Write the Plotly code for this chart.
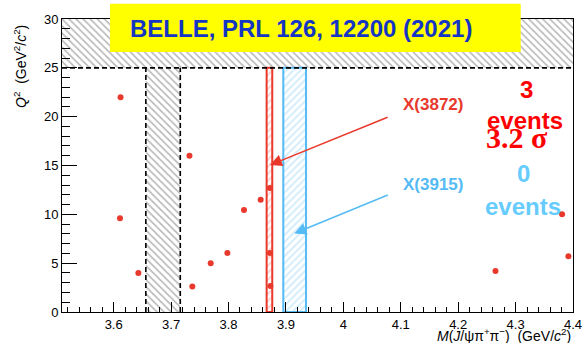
import plotly.graph_objects as go

# ---------------- data ----------------
mass = [3.612, 3.611, 3.643, 3.732, 3.737, 3.769, 3.798, 3.827, 3.856,
        3.872, 3.872, 3.873, 4.265, 4.381, 4.392]
q2 = [22.0, 9.6, 4.0, 16.0, 2.6, 5.0, 6.05, 10.45, 11.5,
      12.7, 6.05, 2.65, 4.2, 10.0, 5.7]

x_range = [3.51, 4.4]
y_range = [0, 30]
q2_cut = 25
sideband = [3.656, 3.716]
x3872_window = [3.8664, 3.8762]
x3915_window = [3.8954, 3.935]

x_ticks = [3.6, 3.7, 3.8, 3.9, 4.0, 4.1, 4.2, 4.3, 4.4]
x_tick_labels = ["3.6", "3.7", "3.8", "3.9", "4", "4.1", "4.2", "4.3", "4.4"]
y_ticks = [0, 5, 10, 15, 20, 25, 30]

# arrow endpoints (tip, tail) in data units
arrow_3872 = {"tip": (3.8722, 15.05), "tail": (4.0797, 20.0)}
arrow_3915 = {"tip": (3.9146, 8.04), "tail": (4.08, 12.04)}

RED = "#E8392C"
BLUE = "#55BBF5"
FONT = "Liberation Sans, Arial, sans-serif"


def rect(x0, x1, y0, y1):
    return [x0, x1, x1, x0, x0], [y0, y0, y1, y1, y0]


fig = go.Figure()

# top excluded band Q2 > 25
bx, by = rect(x_range[0], x_range[1], q2_cut, y_range[1])
fig.add_trace(go.Scatter(x=bx, y=by, mode="lines", fill="toself",
                         line=dict(width=0), fillcolor="rgba(0,0,0,0)",
                         fillpattern=dict(shape="\\", fgcolor="#707070", bgcolor="white",
                                          size=5, solidity=0.32),
                         hoverinfo="skip", showlegend=False))

# sideband (grey hatched)
bx, by = rect(sideband[0], sideband[1], y_range[0], q2_cut)
fig.add_trace(go.Scatter(x=bx, y=by, mode="lines", fill="toself",
                         line=dict(width=0), fillcolor="rgba(0,0,0,0)",
                         fillpattern=dict(shape="\\", fgcolor="#707070", bgcolor="white",
                                          size=5, solidity=0.32),
                         hoverinfo="skip", showlegend=False))
for xv in sideband:
    fig.add_trace(go.Scatter(x=[xv, xv], y=[y_range[0], q2_cut], mode="lines",
                             line=dict(color="black", width=1.6, dash="5px,3px"),
                             hoverinfo="skip", showlegend=False))

# X(3872) window
bx, by = rect(x3872_window[0], x3872_window[1], y_range[0], q2_cut)
fig.add_trace(go.Scatter(x=bx, y=by, mode="lines", fill="toself",
                         line=dict(width=2, color=RED), fillcolor="rgba(0,0,0,0)",
                         fillpattern=dict(shape="/", fgcolor="#F4A7A1", bgcolor="white",
                                          size=5, solidity=0.35),
                         hoverinfo="skip", showlegend=False))

# X(3915) window
bx, by = rect(x3915_window[0], x3915_window[1], y_range[0], q2_cut)
fig.add_trace(go.Scatter(x=bx, y=by, mode="lines", fill="toself",
                         line=dict(width=2, color=BLUE), fillcolor="rgba(0,0,0,0)",
                         fillpattern=dict(shape="/", fgcolor="#A2D9F7", bgcolor="white",
                                          size=5, solidity=0.35),
                         hoverinfo="skip", showlegend=False))

# dashed Q2 cut line
fig.add_trace(go.Scatter(x=x_range, y=[q2_cut, q2_cut], mode="lines",
                         line=dict(color="black", width=1.6, dash="5px,3px"),
                         hoverinfo="skip", showlegend=False))

# events
fig.add_trace(go.Scatter(x=mass, y=q2, mode="markers",
                         marker=dict(color=RED, size=6, line=dict(width=0)),
                         showlegend=False))

annotations = []
# arrows
for arr, col in ((arrow_3872, RED), (arrow_3915, BLUE)):
    annotations.append(dict(x=arr["tip"][0], y=arr["tip"][1],
                            ax=arr["tail"][0], ay=arr["tail"][1],
                            xref="x", yref="y", axref="x", ayref="y",
                            text="", showarrow=True, arrowhead=2, arrowsize=1.6,
                            arrowwidth=1.5, arrowcolor=col, standoff=0))

annotations += [
    dict(x=4.156, y=21.26, xref="x", yref="y", text="<b>X(3872)</b>", showarrow=False,
         font=dict(family=FONT, size=17, color=RED)),
    dict(x=4.156, y=13.1, xref="x", yref="y", text="<b>X(3915)</b>", showarrow=False,
         font=dict(family=FONT, size=17, color=BLUE)),
    dict(x=4.319, y=22.74, xref="x", yref="y", text="<b>3</b>", showarrow=False,
         font=dict(family=FONT, size=24, color="#FF0000")),
    dict(x=4.316, y=19.6, xref="x", yref="y", text="<b>events</b>", showarrow=False,
         font=dict(family=FONT, size=24, color="#FF0000")),
    dict(x=4.303, y=17.9, xref="x", yref="y", text="<b>3.2 σ</b>", showarrow=False,
         font=dict(family="Liberation Serif, Times New Roman, serif", size=30, color="#FF0000")),
    dict(x=4.313, y=14.2, xref="x", yref="y", text="<b>0</b>", showarrow=False,
         font=dict(family=FONT, size=24, color="#66CCFF")),
    dict(x=4.313, y=10.77, xref="x", yref="y", text="<b>events</b>", showarrow=False,
         font=dict(family=FONT, size=24, color="#66CCFF")),
    # axis titles
    dict(x=1, y=-0.08, xref="paper", yref="paper", xanchor="right", yanchor="middle",
         text="<i>M</i>(<i>J</i>/ψπ<sup>+</sup>π<sup>−</sup>)  (GeV/<i>c</i><sup>2</sup>)",
         showarrow=False, font=dict(family=FONT, size=14, color="black")),
    dict(x=-0.082, y=0.985, xref="paper", yref="paper", xanchor="center", yanchor="top",
         textangle=-90,
         text="<i>Q</i><sup>2</sup>  (GeV<sup>2</sup>/<i>c</i><sup>2</sup>)",
         showarrow=False, font=dict(family=FONT, size=14, color="black")),
    # title box text
    dict(x=0.4677, y=0.969, xref="paper", yref="paper", xanchor="center", yanchor="middle",
         text="<b>BELLE, PRL 126, 12200 (2021)</b>", showarrow=False,
         font=dict(family=FONT, size=24, color="#1535C4")),
]

fig.update_layout(
    width=583, height=343,
    margin=dict(l=62, r=10, t=19, b=31, autoexpand=False),
    paper_bgcolor="white", plot_bgcolor="white",
    font=dict(family=FONT, size=13, color="black"),
    showlegend=False,
    annotations=annotations,
    shapes=[dict(type="rect", xref="paper", yref="paper",
                 x0=0.094, x1=0.8977, y0=0.887, y1=1.052,
                 fillcolor="#FFFF00", line=dict(width=0), layer="above")],
    xaxis=dict(range=x_range, showgrid=False, zeroline=False, automargin=False,
               showline=True, linecolor="black", linewidth=1, mirror=True,
               ticks="inside", ticklen=10, tickcolor="black", tickwidth=1,
               tickvals=x_ticks, ticktext=x_tick_labels,
               tickfont=dict(family=FONT, size=13, color="black"),
               ticklabeloverflow="allow",
               minor=dict(dtick=0.02, tick0=3.6, ticks="inside", ticklen=5,
                          tickcolor="black", tickwidth=1, showgrid=False)),
    yaxis=dict(range=y_range, showgrid=False, zeroline=False, automargin=False,
               showline=True, linecolor="black", linewidth=1, mirror=True,
               ticks="inside", ticklen=15, tickcolor="black", tickwidth=1,
               tickvals=y_ticks,
               tickfont=dict(family=FONT, size=13, color="black"),
               minor=dict(dtick=1, tick0=0, ticks="inside", ticklen=8,
                          tickcolor="black", tickwidth=1, showgrid=False)),
)

# remove the default 8px page margin so the figure fills the window exactly
fig.write_html("out.html",
               config={"displayModeBar": False},
               post_script="document.body.style.margin='0';document.body.style.overflow='hidden';")
